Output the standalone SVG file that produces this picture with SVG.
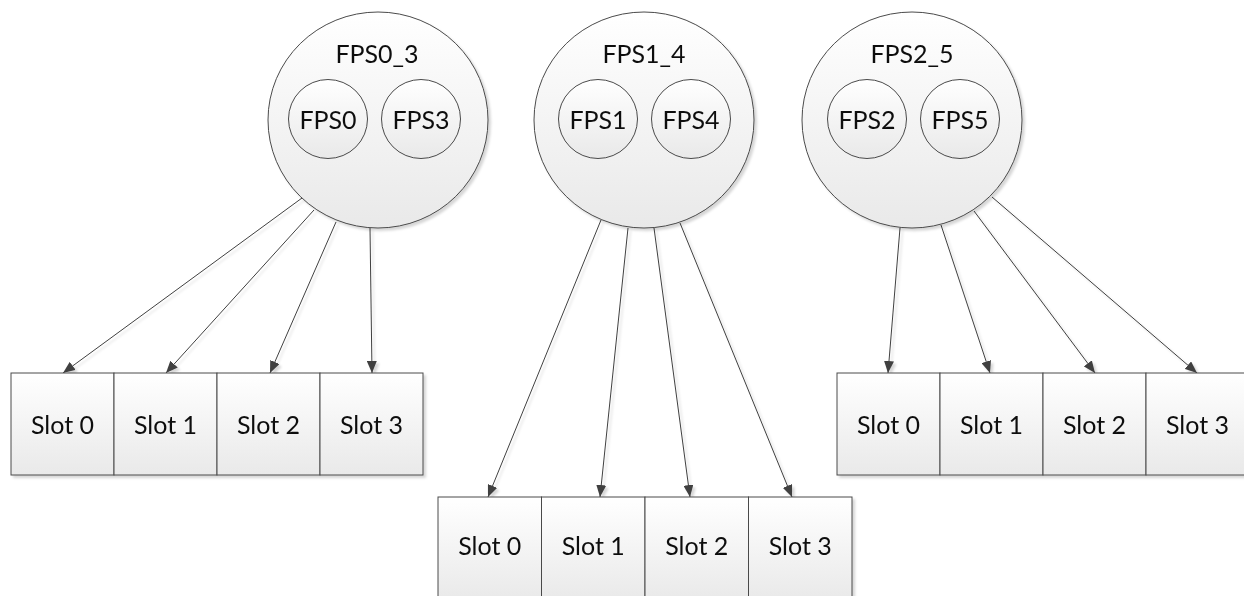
<svg xmlns="http://www.w3.org/2000/svg" width="1244" height="596" viewBox="0 0 1244 596">
<defs>
<linearGradient id="gf" x1="0" y1="0" x2="0" y2="1">
<stop offset="0" stop-color="#ffffff"/>
<stop offset="1" stop-color="#e9e9e9"/>
</linearGradient>
<filter id="sh" filterUnits="userSpaceOnUse" x="0" y="0" width="1244" height="596">
<feDropShadow dx="2.5" dy="2.5" stdDeviation="0.8" flood-color="#000" flood-opacity="0.16"/>
</filter>
<marker id="ah" viewBox="0 0 12 10" refX="12" refY="5" markerWidth="12" markerHeight="10" markerUnits="userSpaceOnUse" orient="auto">
<path d="M0,0 L12,5 L0,10 z" fill="#404040"/>
</marker>
</defs>
<style>
.shape{fill:url(#gf);stroke:#4a4a4a;stroke-width:1;}
.t{font-family:Lato,"Open Sans","Liberation Sans",sans-serif;font-size:25px;fill:#111;text-anchor:middle;}
.c{stroke:#404040;stroke-width:1;fill:none;marker-end:url(#ah);}
</style>
<rect width="1244" height="596" fill="#ffffff"/>

<g id="connectors" filter="url(#sh)">
<line class="c" x1="302" y1="198" x2="63" y2="373"/>
<line class="c" x1="314" y1="210" x2="166" y2="373"/>
<line class="c" x1="336" y1="222" x2="270" y2="373"/>
<line class="c" x1="370" y1="228" x2="372" y2="373"/>
<line class="c" x1="601" y1="220" x2="488" y2="497"/>
<line class="c" x1="628" y1="228" x2="600" y2="497"/>
<line class="c" x1="654" y1="228" x2="690" y2="497"/>
<line class="c" x1="680" y1="223" x2="792" y2="497"/>
<line class="c" x1="900" y1="228" x2="888" y2="373"/>
<line class="c" x1="941" y1="225" x2="990" y2="373"/>
<line class="c" x1="974" y1="211" x2="1095" y2="373"/>
<line class="c" x1="992" y1="197" x2="1197" y2="373"/>
</g>

<g id="fps0_3" filter="url(#sh)">
<ellipse class="shape" cx="378" cy="120" rx="110" ry="108"/>
<text class="t" x="377" y="63">FPS0_3</text>
<g id="fps0"><circle class="shape" cx="328" cy="119" r="39.5"/><text class="t" x="328" y="129">FPS0</text></g>
<g id="fps3"><circle class="shape" cx="421" cy="119" r="39.5"/><text class="t" x="421" y="129">FPS3</text></g>
</g>

<g id="fps1_4" filter="url(#sh)">
<ellipse class="shape" cx="644" cy="120" rx="110" ry="108"/>
<text class="t" x="644" y="63">FPS1_4</text>
<g id="fps1"><circle class="shape" cx="598" cy="119" r="39.5"/><text class="t" x="598" y="129">FPS1</text></g>
<g id="fps4"><circle class="shape" cx="691" cy="119" r="39.5"/><text class="t" x="691" y="129">FPS4</text></g>
</g>

<g id="fps2_5" filter="url(#sh)">
<ellipse class="shape" cx="912" cy="120" rx="110" ry="108"/>
<text class="t" x="912" y="63">FPS2_5</text>
<g id="fps2"><circle class="shape" cx="867" cy="119" r="39.5"/><text class="t" x="867" y="129">FPS2</text></g>
<g id="fps5"><circle class="shape" cx="960" cy="119" r="39.5"/><text class="t" x="960" y="129">FPS5</text></g>
</g>

<g id="slots_a" filter="url(#sh)">
<g id="a_slot0"><rect class="shape" x="11" y="373" width="103" height="102"/><text class="t" x="62.5" y="434">Slot 0</text></g>
<g id="a_slot1"><rect class="shape" x="114" y="373" width="103" height="102"/><text class="t" x="165.5" y="434">Slot 1</text></g>
<g id="a_slot2"><rect class="shape" x="217" y="373" width="103" height="102"/><text class="t" x="268.5" y="434">Slot 2</text></g>
<g id="a_slot3"><rect class="shape" x="320" y="373" width="103" height="102"/><text class="t" x="371.5" y="434">Slot 3</text></g>
</g>

<g id="slots_b" filter="url(#sh)">
<g id="b_slot0"><rect class="shape" x="438" y="497" width="103.5" height="104"/><text class="t" x="489.75" y="555">Slot 0</text></g>
<g id="b_slot1"><rect class="shape" x="541.5" y="497" width="103.5" height="104"/><text class="t" x="593.25" y="555">Slot 1</text></g>
<g id="b_slot2"><rect class="shape" x="645" y="497" width="103.5" height="104"/><text class="t" x="696.75" y="555">Slot 2</text></g>
<g id="b_slot3"><rect class="shape" x="748.5" y="497" width="103.5" height="104"/><text class="t" x="800.25" y="555">Slot 3</text></g>
</g>

<g id="slots_c" filter="url(#sh)">
<g id="c_slot0"><rect class="shape" x="837" y="373" width="103" height="102"/><text class="t" x="888.5" y="434">Slot 0</text></g>
<g id="c_slot1"><rect class="shape" x="940" y="373" width="103" height="102"/><text class="t" x="991.5" y="434">Slot 1</text></g>
<g id="c_slot2"><rect class="shape" x="1043" y="373" width="103" height="102"/><text class="t" x="1094.5" y="434">Slot 2</text></g>
<g id="c_slot3"><rect class="shape" x="1146" y="373" width="103" height="102"/><text class="t" x="1197.5" y="434">Slot 3</text></g>
</g>
</svg>
